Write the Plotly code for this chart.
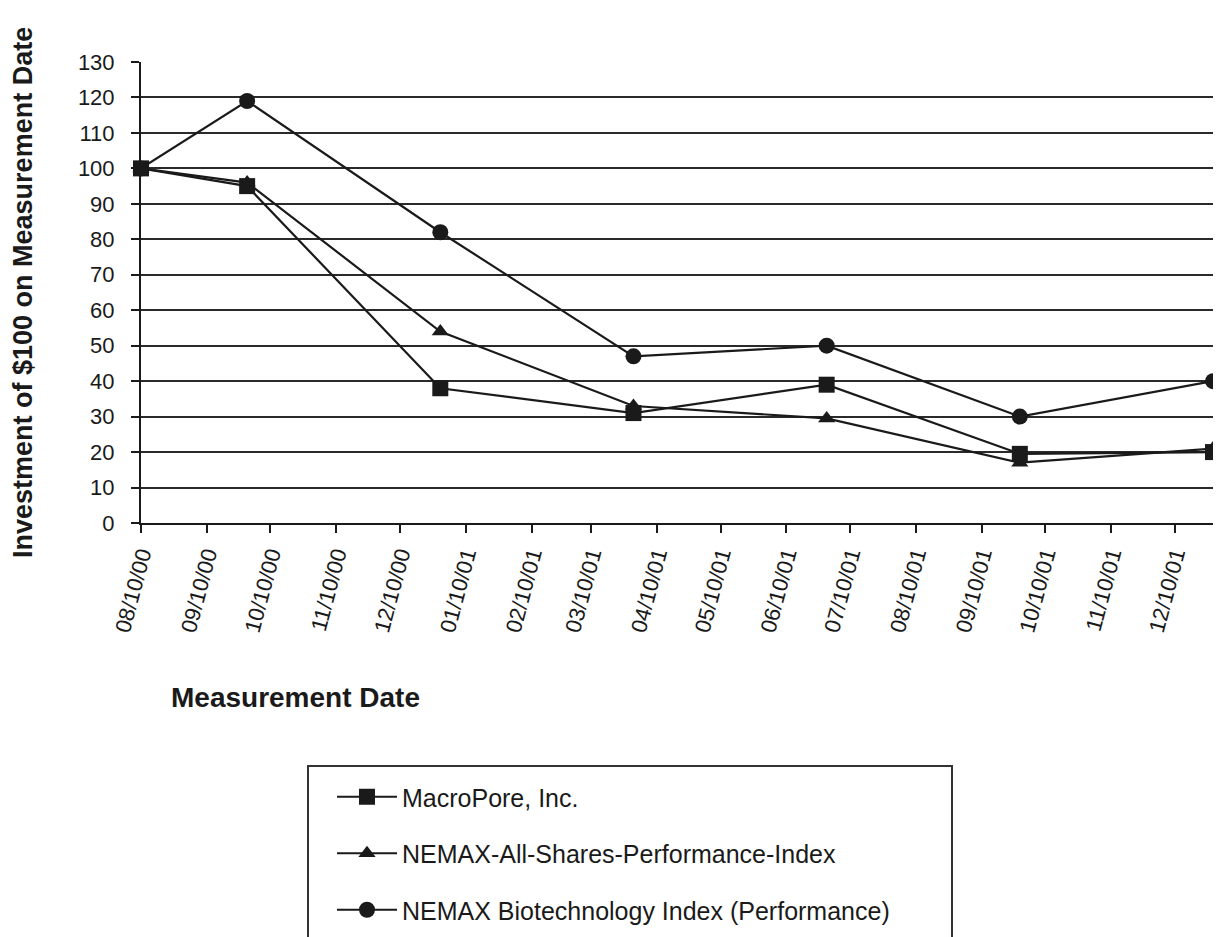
import plotly.graph_objects as go

dates = ["2000-08-10", "2000-09-29", "2000-12-29", "2001-03-30", "2001-06-29", "2001-09-28", "2001-12-28"]
macropore = [100, 95, 38, 31, 39, 19.5, 20]
nemax_all = [100, 96, 54, 33, 29.5, 17, 21]
nemax_bio = [100, 119, 82, 47, 50, 30, 40]

tick_dates = ["2000-08-10", "2000-09-10", "2000-10-10", "2000-11-10", "2000-12-10",
              "2001-01-10", "2001-02-10", "2001-03-10", "2001-04-10", "2001-05-10",
              "2001-06-10", "2001-07-10", "2001-08-10", "2001-09-10", "2001-10-10",
              "2001-11-10", "2001-12-10"]
tick_labels = ["08/10/00", "09/10/00", "10/10/00", "11/10/00", "12/10/00",
               "01/10/01", "02/10/01", "03/10/01", "04/10/01", "05/10/01",
               "06/10/01", "07/10/01", "08/10/01", "09/10/01", "10/10/01",
               "11/10/01", "12/10/01"]

series_names = ["MacroPore, Inc.", "NEMAX-All-Shares-Performance-Index",
                "NEMAX Biotechnology Index (Performance)"]

FONT = "Liberation Sans, Arial, sans-serif"
INK = "#1a1a1a"

W, H = 1221, 937
OFF = 8  # page body offset
L, T, B, R = 133, 54, 422, 16
PW = W - L - R
PH = H - T - B
PLOT_LEFT = L + OFF
PLOT_BOTTOM = T + PH + OFF

def px_x(p):
    return (p - PLOT_LEFT) / PW

def px_y(p):
    return (PLOT_BOTTOM - p) / PH

fig = go.Figure()
styles = [("square", 16), ("triangle-up", 15), ("circle", 16)]
for i, (vals, name) in enumerate(zip([macropore, nemax_all, nemax_bio], series_names)):
    sym, sz = styles[i]
    fig.add_trace(go.Scatter(
        x=dates, y=vals, name=name, mode="lines+markers",
        line=dict(color=INK, width=2.2),
        marker=dict(symbol=sym, size=sz, color=INK),
        cliponaxis=False, legendgroup=f"g{i}",
    ))

fig.update_layout(
    width=W, height=H,
    margin=dict(l=L, r=R, t=T, b=B),
    plot_bgcolor="white", paper_bgcolor="white",
    font=dict(family=FONT, color=INK, size=22),
    showlegend=True,
    legend=dict(
        x=px_x(332), y=px_y(774), xanchor="left", yanchor="top",
        bgcolor="rgba(0,0,0,0)", borderwidth=0,
        font=dict(size=25, family=FONT, color=INK),
        tracegroupgap=21, traceorder="grouped",
        itemwidth=60,
    ),
    xaxis=dict(
        type="date",
        range=[dates[0], dates[-1]],
        tickvals=tick_dates, ticktext=tick_labels,
        tickangle=-75,
        tickfont=dict(size=22),
        ticks="outside", ticklen=8, tickwidth=2, tickcolor=INK,
        showline=True, linecolor=INK, linewidth=2,
        showgrid=False, zeroline=False,
    ),
    yaxis=dict(
        range=[0, 130], dtick=10,
        tickfont=dict(size=22),
        ticks="outside", ticklen=8, tickwidth=2, tickcolor=INK,
        ticklabelstandoff=12,
        showline=True, linecolor=INK, linewidth=2,
        showgrid=True, gridcolor="#2a2a2a", gridwidth=2,
        zeroline=False,
    ),
    annotations=[
        dict(text="<b>Investment of $100 on Measurement Date</b>", textangle=-90,
             x=px_x(23), y=px_y(293), xref="paper", yref="paper",
             xanchor="center", yanchor="middle", showarrow=False,
             font=dict(size=27, family=FONT, color=INK)),
        dict(text="<b>Measurement Date</b>",
             x=px_x(295), y=px_y(697), xref="paper", yref="paper",
             xanchor="center", yanchor="middle", showarrow=False,
             font=dict(size=28, family=FONT, color=INK)),
    ],
    shapes=[
        dict(type="rect", xref="paper", yref="paper",
             x0=px_x(308), x1=px_x(952), y0=px_y(766), y1=px_y(960),
             line=dict(color="#333333", width=2), fillcolor="rgba(0,0,0,0)"),
    ],
)

fig.write_html("out.html")
